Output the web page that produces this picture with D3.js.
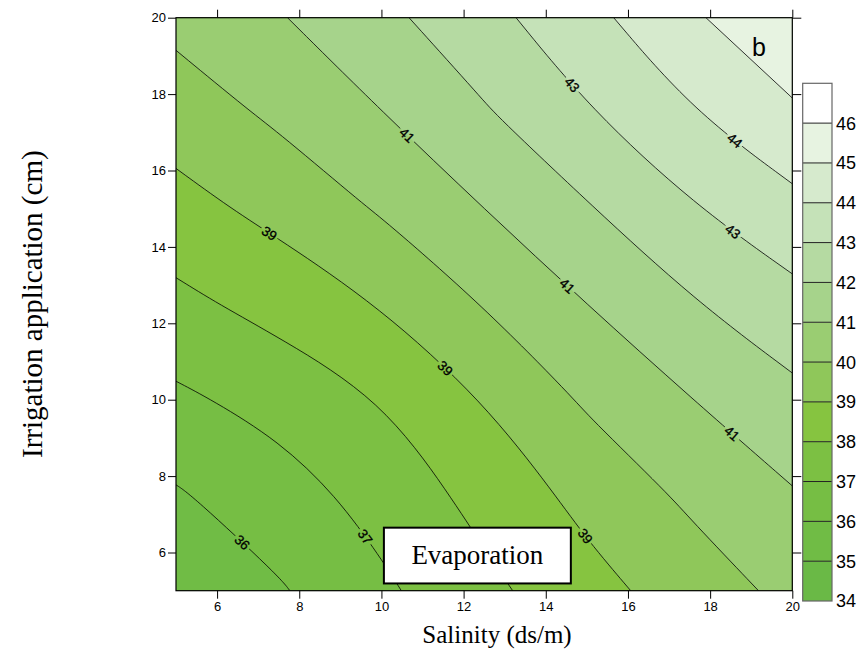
<!DOCTYPE html>
<html>
<head>
<meta charset="utf-8">
<script src="https://cdn.jsdelivr.net/npm/d3@7"></script>
<style>
  body { margin: 0; background: #fff; }
  svg { display: block; }
</style>
</head>
<body>
<div id="chart"></div>
<script>
// Grid nodes: salinity (x) and irrigation (y)
const salinity = [5, 7.5, 10, 12.5, 15, 17.5, 20];
const irrigation = [5, 7.5, 10, 12.5, 15, 17.5, 20];

// Evaporation, one row per irrigation level (bottom row first)
const evaporation = [
  [35.05, 35.90, 36.82, 37.75, 38.65, 39.47, 40.26],
  [35.90, 36.55, 37.36, 38.32, 39.30, 40.17, 40.92],
  [36.82, 37.34, 38.00, 39.02, 40.13, 40.97, 41.74],
  [37.75, 38.35, 39.04, 40.03, 41.00, 41.92, 42.67],
  [38.65, 39.30, 40.10, 41.00, 41.92, 42.92, 43.71],
  [39.48, 40.18, 40.98, 41.90, 42.93, 43.95, 44.82],
  [40.27, 40.93, 41.75, 42.68, 43.71, 44.82, 45.95]
];

// Contour levels and band colours (34-35 ... 46-47)
const levels = [34, 35, 36, 37, 38, 39, 40, 41, 42, 43, 44, 45, 46, 47];
const bandColors = ["#6ab946", "#70bc45", "#76be44", "#7cc043", "#86c440", "#8fc75a",
  "#9acd72", "#a6d38b", "#b5daa2", "#c5e2b8", "#d6eacd", "#e7f3e1", "#ffffff"];

const axisTicks = [6, 8, 10, 12, 14, 16, 18, 20];

// Inline contour labels (level, approximate salinity / irrigation position)
const contourLabels = [
  { level: 36, x: 6.80, y: 6.50 },
  { level: 37, x: 9.72, y: 6.50 },
  { level: 39, x: 7.29, y: 14.40 },
  { level: 39, x: 11.59, y: 10.86 },
  { level: 39, x: 15.00, y: 6.46 },
  { level: 41, x: 10.57, y: 16.87 },
  { level: 41, x: 14.51, y: 12.96 },
  { level: 41, x: 18.52, y: 9.12 },
  { level: 43, x: 14.55, y: 18.15 },
  { level: 43, x: 18.48, y: 14.31 },
  { level: 44, x: 18.48, y: 16.62 }
];

const W = 858, H = 652;
const plot = { left: 176, right: 792.3, top: 17.7, bottom: 590.7 };
const bar = { left: 802.7, right: 832, top: 83.3, bottom: 601 };
const sans = "Arial, 'Liberation Sans', sans-serif";
const serif = "'Times New Roman', 'Liberation Serif', serif";

const svg = d3.select("#chart").append("svg")
  .attr("width", W).attr("height", H);

const x = d3.scaleLinear().domain([5, 20]).range([plot.left, plot.right]);
const y = d3.scaleLinear().domain([5, 20]).range([plot.bottom, plot.top]);

// grid coordinates from d3.contours -> data units -> pixels
const nx = salinity.length, ny = irrigation.length;
const gridX = d3.scaleLinear().domain([0.5, nx - 0.5]).range([salinity[0], salinity[nx - 1]]).clamp(true);
const gridY = d3.scaleLinear().domain([0.5, ny - 0.5]).range([irrigation[0], irrigation[ny - 1]]).clamp(true);
const toPx = (gx, gy) => [x(gridX(gx)), y(gridY(gy))];

const contours = d3.contours()
  .size([nx, ny])
  .thresholds(levels.slice(0, -1))(evaporation.flat());

// split each ring into straight runs along the frame and smooth runs across the plot
const eps = 1e-6;
const sides = p => {
  const s = [];
  if (Math.abs(p[0] - plot.left) < eps) s.push("l");
  if (Math.abs(p[0] - plot.right) < eps) s.push("r");
  if (Math.abs(p[1] - plot.top) < eps) s.push("t");
  if (Math.abs(p[1] - plot.bottom) < eps) s.push("b");
  return s;
};
const alongFrame = (a, b) => sides(a).some(s => sides(b).includes(s));

function ringPoints(ring) {
  const pts = [];
  ring.forEach(p => {
    const q = toPx(p[0], p[1]);
    const last = pts[pts.length - 1];
    if (!last || Math.hypot(last[0] - q[0], last[1] - q[1]) > eps) pts.push(q);
  });
  if (pts.length > 1 && Math.hypot(pts[0][0] - pts[pts.length - 1][0], pts[0][1] - pts[pts.length - 1][1]) < eps) pts.pop();
  return pts;
}

function ringRuns(pts) {
  const m = pts.length;
  let start = -1;
  for (let i = 0; i < m; i++) if (alongFrame(pts[i], pts[(i + 1) % m])) { start = i; break; }
  if (start < 0) return null;
  const runs = [];
  for (let k = 0; k < m; k++) {
    const i = (start + k) % m;
    const a = pts[i], b = pts[(i + 1) % m];
    const edge = alongFrame(a, b);
    const last = runs[runs.length - 1];
    if (last && last.edge === edge) last.pts.push(b);
    else runs.push({ edge, pts: [a, b] });
  }
  return runs;
}

// merge crossings that sit very close together (around grid nodes) before smoothing
function mergeClose(pts, minD) {
  if (pts.length < 3) return pts;
  const first = pts[0], end = pts[pts.length - 1];
  const out = [first];
  let cluster = [];
  const flush = () => {
    if (cluster.length) {
      out.push([d3.mean(cluster, p => p[0]), d3.mean(cluster, p => p[1])]);
      cluster = [];
    }
  };
  for (let i = 1; i < pts.length - 1; i++) {
    const ref = cluster.length ? cluster[0] : out[out.length - 1];
    const d = Math.hypot(pts[i][0] - ref[0], pts[i][1] - ref[1]);
    if (cluster.length && d < minD) cluster.push(pts[i]);
    else if (!cluster.length && d < minD && out.length > 1) { cluster.push(out.pop(), pts[i]); }
    else { flush(); cluster.push(pts[i]); }
  }
  flush();
  const last = out[out.length - 1];
  if (out.length > 1 && Math.hypot(end[0] - last[0], end[1] - last[1]) < minD) out.pop();
  out.push(end);
  return out;
}

const smoothLine = d3.line().curve(d3.curveBasis);
const smoothClosed = d3.line().curve(d3.curveBasisClosed);
const runPath = pts => smoothLine(mergeClose(pts, 14));

function fillPath(c) {
  let s = "";
  c.coordinates.forEach(poly => poly.forEach(ring => {
    const pts = ringPoints(ring);
    if (pts.length < 3) return;
    const runs = ringRuns(pts);
    if (!runs) { s += smoothClosed(pts); return; }
    s += `M${runs[0].pts[0].join(",")}`;
    runs.forEach(r => {
      if (r.edge) r.pts.slice(1).forEach(p => { s += `L${p.join(",")}`; });
      else s += runPath(r.pts).replace(/^M/, "L");
    });
    s += "Z";
  }));
  return s;
}

function isoLines(c) {
  const out = [];
  c.coordinates.forEach(poly => poly.forEach(ring => {
    const pts = ringPoints(ring);
    if (pts.length < 2) return;
    const runs = ringRuns(pts);
    if (!runs) { out.push({ level: c.value, d: smoothClosed(pts) }); return; }
    runs.filter(r => !r.edge).forEach(r => out.push({ level: c.value, d: runPath(r.pts) }));
  }));
  return out;
}

const defs = svg.append("defs");
defs.append("clipPath").attr("id", "plot-clip")
  .append("rect")
  .attr("x", plot.left).attr("y", plot.top)
  .attr("width", plot.right - plot.left).attr("height", plot.bottom - plot.top);

// Filled bands
svg.append("g").attr("clip-path", "url(#plot-clip)")
  .selectAll("path")
  .data(contours)
  .join("path")
  .attr("d", fillPath)
  .attr("fill", d => bandColors[levels.indexOf(d.value)])
  .attr("stroke", d => bandColors[levels.indexOf(d.value)])
  .attr("stroke-width", 0.5);

// Contour lines (masked around labels)
const lineData = contours.slice(1).flatMap(isoLines);
const lineG = svg.append("g").attr("clip-path", "url(#plot-clip)")
  .append("g").attr("mask", "url(#label-gaps)");
const linePaths = lineG.selectAll("path")
  .data(lineData)
  .join("path")
  .attr("d", d => d.d)
  .attr("fill", "none")
  .attr("stroke", "#000")
  .attr("stroke-width", 0.8);

// Find label spot and angle on the drawn curve
function placeLabel(lab) {
  const tx = x(lab.x), ty = y(lab.y);
  let best = null;
  linePaths.filter(d => d.level === lab.level).each(function () {
    const len = this.getTotalLength();
    for (let s = 0; s <= len; s += 1) {
      const p = this.getPointAtLength(s);
      const dist = Math.hypot(p.x - tx, p.y - ty);
      if (!best || dist < best.dist) best = { dist, node: this, s, len, px: p.x, py: p.y };
    }
  });
  if (!best) return { px: tx, py: ty, ang: 0 };
  const a = best.node.getPointAtLength(Math.max(0, best.s - 6));
  const b = best.node.getPointAtLength(Math.min(best.len, best.s + 6));
  let ang = Math.atan2(b.y - a.y, b.x - a.x) * 180 / Math.PI;
  if (ang > 90) ang -= 180;
  if (ang < -90) ang += 180;
  return { px: best.px, py: best.py, ang };
}

const labelPos = contourLabels.map(l => Object.assign({}, l, placeLabel(l)));

const labelText = svg.append("g").selectAll("text")
  .data(labelPos)
  .join("text")
  .attr("transform", d => `translate(${d.px},${d.py}) rotate(${d.ang})`)
  .attr("text-anchor", "middle")
  .attr("dy", "0.36em")
  .attr("font-family", sans)
  .attr("font-size", 13.5)
  .attr("fill", "#000")
  .attr("stroke", "#000")
  .attr("stroke-width", 0.3)
  .text(d => d.level);

labelText.each(function (d) { d.w = this.getComputedTextLength(); });

const mask = defs.append("mask").attr("id", "label-gaps")
  .attr("maskUnits", "userSpaceOnUse")
  .attr("x", 0).attr("y", 0).attr("width", W).attr("height", H);
mask.append("rect").attr("width", W).attr("height", H).attr("fill", "white");
mask.selectAll("rect.gap")
  .data(labelPos)
  .join("rect")
  .attr("class", "gap")
  .attr("transform", d => `translate(${d.px},${d.py}) rotate(${d.ang})`)
  .attr("x", d => -d.w / 2 - 2).attr("y", -6)
  .attr("width", d => d.w + 4).attr("height", 12)
  .attr("fill", "black");

// Frame
svg.append("rect")
  .attr("x", plot.left).attr("y", plot.top)
  .attr("width", plot.right - plot.left).attr("height", plot.bottom - plot.top)
  .attr("fill", "none").attr("stroke", "#000").attr("stroke-width", 1.2);

// Axes (ticks outward on all sides)
function styleAxis(g, labels) {
  g.select(".domain").remove();
  g.selectAll(".tick line").attr("stroke", "#000").attr("stroke-width", 1);
  g.selectAll(".tick text")
    .attr("font-family", sans).attr("font-size", 13).attr("fill", "#000");
  if (!labels) g.selectAll(".tick text").remove();
}

svg.append("g")
  .attr("transform", `translate(0,${plot.bottom})`)
  .call(d3.axisBottom(x).tickValues(axisTicks).tickSize(8).tickPadding(3))
  .call(g => styleAxis(g, true));

svg.append("g")
  .attr("transform", `translate(0,${plot.top})`)
  .call(d3.axisTop(x).tickValues(axisTicks).tickSize(8))
  .call(g => styleAxis(g, false));

svg.append("g")
  .attr("transform", `translate(${plot.left},0)`)
  .call(d3.axisLeft(y).tickValues(axisTicks).tickSize(8).tickPadding(2))
  .call(g => styleAxis(g, true));

svg.append("g")
  .attr("transform", `translate(${plot.right},0)`)
  .call(d3.axisRight(y).tickValues(axisTicks).tickSize(9))
  .call(g => styleAxis(g, false));

// Axis titles
svg.append("text")
  .attr("x", 497).attr("y", 643)
  .attr("text-anchor", "middle")
  .attr("font-family", serif).attr("font-size", 25)
  .text("Salinity (ds/m)");

svg.append("text")
  .attr("transform", `translate(42,${(plot.top + plot.bottom) / 2}) rotate(-90)`)
  .attr("text-anchor", "middle")
  .attr("font-family", serif).attr("font-size", 29)
  .text("Irrigation application (cm)");

// Panel letter
svg.append("text")
  .attr("x", x(19.19)).attr("y", y(19.0))
  .attr("text-anchor", "middle")
  .attr("font-family", sans).attr("font-size", 25)
  .text("b");

// Evaporation box
svg.append("rect")
  .attr("x", x(10.06)).attr("y", y(6.65))
  .attr("width", x(14.61) - x(10.06)).attr("height", y(5.19) - y(6.65))
  .attr("fill", "#fff").attr("stroke", "#000").attr("stroke-width", 2);
svg.append("text")
  .attr("x", x((10.06 + 14.61) / 2)).attr("y", y(5.70))
  .attr("text-anchor", "middle")
  .attr("font-family", serif).attr("font-size", 27)
  .text("Evaporation");

// Colour bar
const cb = d3.scaleLinear().domain([levels[0], levels[levels.length - 1]])
  .range([bar.bottom, bar.top]);
const cbG = svg.append("g");
cbG.selectAll("rect.band")
  .data(levels.slice(0, -1))
  .join("rect")
  .attr("class", "band")
  .attr("x", bar.left).attr("width", bar.right - bar.left)
  .attr("y", d => cb(d + 1)).attr("height", d => cb(d) - cb(d + 1))
  .attr("fill", (d, i) => bandColors[i]);
cbG.selectAll("line.sep")
  .data(levels.slice(1, -1))
  .join("line")
  .attr("class", "sep")
  .attr("x1", bar.left).attr("x2", bar.right)
  .attr("y1", d => cb(d)).attr("y2", d => cb(d))
  .attr("stroke", "#222").attr("stroke-width", 1);
cbG.append("rect")
  .attr("x", bar.left).attr("y", bar.top)
  .attr("width", bar.right - bar.left).attr("height", bar.bottom - bar.top)
  .attr("fill", "none").attr("stroke", "#666").attr("stroke-width", 1.2);
cbG.selectAll("text")
  .data(levels.slice(0, -1))
  .join("text")
  .attr("x", bar.right + 4).attr("y", d => cb(d))
  .attr("dy", "0.36em")
  .attr("font-family", sans).attr("font-size", 18)
  .text(d => d);
</script>
</body>
</html>
